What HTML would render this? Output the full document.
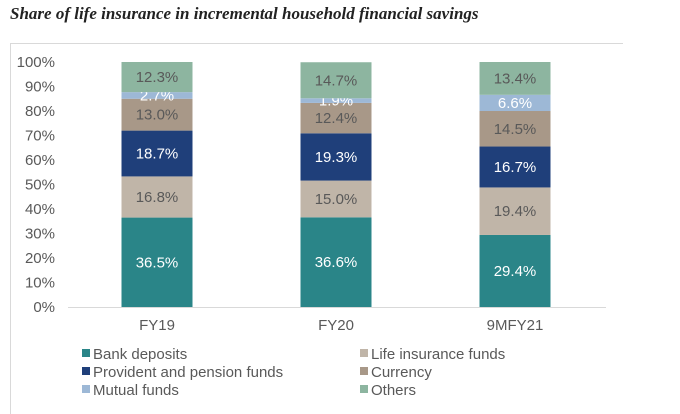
<!DOCTYPE html>
<html><head><meta charset="utf-8"><style>
body{margin:0;background:#fff;width:680px;height:406px;overflow:hidden;font-family:"Liberation Sans",sans-serif}
#title{position:absolute;left:10px;top:4px;font-family:"Liberation Serif",serif;font-style:italic;font-weight:bold;font-size:17px;color:#222}
#frame{position:absolute;left:10px;top:43px;width:612px;height:370px;border-top:1px solid #d9d9d9;border-left:1px solid #d9d9d9}
svg{position:absolute;left:0;top:0}
</style></head><body>
<div id="title">Share of life insurance in incremental household financial savings</div>
<div id="frame"></div>
<svg id="chart" width="680" height="406"></svg>
<script>
const categories=["FY19","FY20","9MFY21"];
const seriesNames=["Bank deposits","Life insurance funds","Provident and pension funds","Currency","Mutual funds","Others"];
const bankDeposits=[36.5,36.6,29.4];
const lifeInsurance=[16.8,15.0,19.4];
const providentFunds=[18.7,19.3,16.7];
const currency=[13.0,12.4,14.5];
const mutualFunds=[2.7,1.9,6.6];
const others=[12.3,14.7,13.4];
const yTicks=[0,10,20,30,40,50,60,70,80,90,100];
const series=[bankDeposits,lifeInsurance,providentFunds,currency,mutualFunds,others];
const colors=["#2a8588","#c0b5a8","#1f3f7a","#a89888","#9db8d6","#8db5a0"];
const labelColors=["#fff","#595959","#fff","#595959","#fff","#595959"];
const NS="http://www.w3.org/2000/svg";
const svg=document.getElementById("chart");
const y0=307,y1=62,xL=68,xR=606,bw=71;
const y=v=>y0-(v/100)*(y0-y1);
const xc=i=>157+i*179;
function mk(t,a){const e=document.createElementNS(NS,t);for(const k in a)e.setAttribute(k,a[k]);svg.appendChild(e);return e;}
yTicks.forEach(t=>{const e=mk("text",{x:55,y:y(t)+5,"text-anchor":"end","font-size":"15","fill":"#595959"});e.textContent=t+"%";

});
const ax=mk("line",{x1:xL,x2:xR,y1:y0+0.5,y2:y0+0.5,stroke:"#d9d9d9","stroke-width":1});


categories.forEach((c,i)=>{let cum=0;
series.forEach((s,j)=>{const v=s[i];const r=mk("rect",{x:xc(i)-bw/2,y:y(cum+v),width:bw,height:y(cum)-y(cum+v),fill:colors[j]});


const t=mk("text",{x:xc(i),y:(y(cum)+y(cum+v))/2+5,"text-anchor":"middle","font-size":"15",fill:labelColors[j]});
t.textContent=v.toFixed(1)+"%";


cum+=v;});
const l=mk("text",{x:xc(i),y:330,"text-anchor":"middle","font-size":"15",fill:"#595959"});l.textContent=c;

});
seriesNames.forEach((n,j)=>{const col=j%2,row=Math.floor(j/2);const lx=col?360:82,ly=354+row*18;
const sq=mk("rect",{x:lx,y:ly-5,width:8,height:8,fill:colors[j]});


const t=mk("text",{x:lx+11,y:ly+5,"font-size":"15",fill:"#595959"});t.textContent=n;

});
</script>
</body></html>
